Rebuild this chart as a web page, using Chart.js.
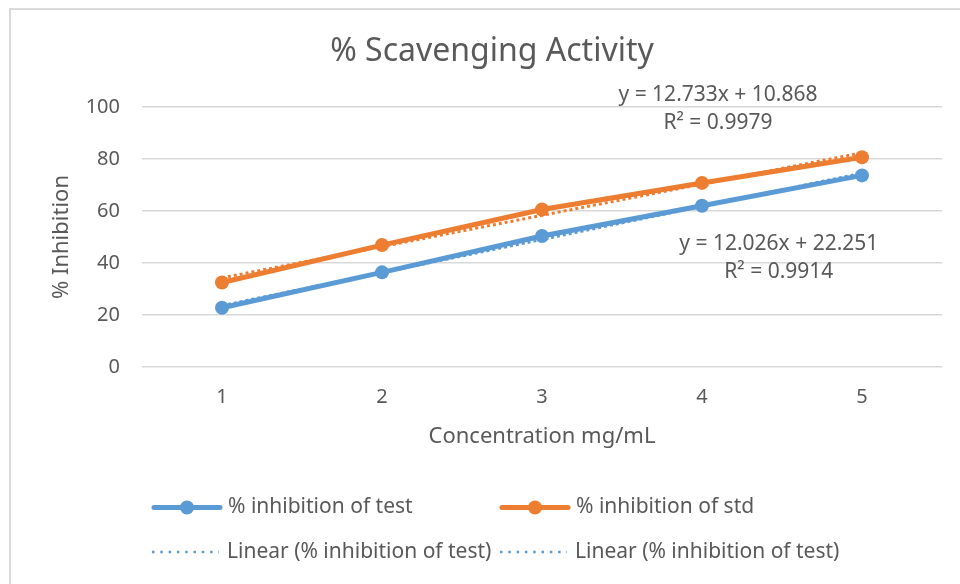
<!DOCTYPE html>
<html>
<head>
<meta charset="utf-8">
<title>% Scavenging Activity</title>
<script src="https://cdn.jsdelivr.net/npm/chart.js@4.4.1/dist/chart.umd.min.js"></script>
<style>
  html, body { margin: 0; padding: 0; background: #fff; }
  #wrap { position: relative; width: 960px; height: 584px; }
</style>
</head>
<body>
<div id="wrap"><canvas id="scavenging" width="960" height="584"></canvas></div>
<script>
// data
var concentrations = ["1", "2", "3", "4", "5"];
var testInhibition = [22.8, 36.4, 50.4, 62.0, 73.7];
var stdInhibition = [32.5, 46.9, 60.6, 70.8, 80.7];
// trendline values as shown by the excel labels
var testTrend = [23.601, 36.334, 49.067, 61.800, 74.533];
var stdTrend = [34.277, 46.303, 58.329, 70.355, 82.381];
var yTicks = [0, 20, 40, 60, 80, 100];

var blue = '#5b9bd5';
var orange = '#ed7d31';
var textGrey = '#595959';
var gridGrey = '#d9d9d9';
var fontFam = "'Noto Sans', sans-serif";

// title, frame, equation labels and legend
var decorations = {
	id: 'decorations',
	afterDraw: function (chart) {
		var ctx = chart.ctx;
		var x = chart.scales.x, y = chart.scales.y;
		ctx.save();

		// frame (only top and left edges are inside the picture)
		ctx.strokeStyle = gridGrey;
		ctx.lineWidth = 2;
		ctx.beginPath();
		ctx.moveTo(10, 584);
		ctx.lineTo(10, 9);
		ctx.lineTo(960, 9);
		ctx.stroke();

		ctx.fillStyle = textGrey;
		ctx.textAlign = 'center';
		ctx.textBaseline = 'middle';
		ctx.font = '32px ' + fontFam;
		ctx.fillText('% Scavenging Activity', 492, 52);

		// trendline labels
		ctx.font = '21px ' + fontFam;
		ctx.fillText('y = 12.733x + 10.868', x.getPixelForValue(3.1), y.getPixelForValue(104.5));
		ctx.fillText('R\u00b2 = 0.9979', x.getPixelForValue(3.1), y.getPixelForValue(93.7));
		ctx.fillText('y = 12.026x + 22.251', x.getPixelForValue(3.48), y.getPixelForValue(47.3));
		ctx.fillText('R\u00b2 = 0.9914', x.getPixelForValue(3.48), y.getPixelForValue(36.5));

		// legend
		var items = [
			{ col: 0, row: 0, color: blue, solid: true, text: '% inhibition of test' },
			{ col: 1, row: 0, color: orange, solid: true, text: '% inhibition of std' },
			{ col: 0, row: 1, color: blue, solid: false, text: 'Linear (% inhibition of test)' },
			{ col: 1, row: 1, color: blue, solid: false, text: 'Linear (% inhibition of test)' }
		];
		var colX = [152, 500];
		var rowY = [507.5, 552];
		ctx.textAlign = 'left';
		items.forEach(function (it) {
			var lx = colX[it.col], ly = rowY[it.row];
			ctx.strokeStyle = it.color;
			ctx.fillStyle = it.color;
			if (it.solid) {
				ctx.lineWidth = 5;
				ctx.lineCap = 'round';
				ctx.setLineDash([]);
				ctx.beginPath();
				ctx.moveTo(lx + 2, ly);
				ctx.lineTo(lx + 68, ly);
				ctx.stroke();
				ctx.beginPath();
				ctx.arc(lx + 35, ly, 7, 0, Math.PI * 2);
				ctx.fill();
			} else {
				ctx.lineWidth = 2.5;
				ctx.lineCap = 'butt';
				ctx.setLineDash([2.5, 5.8]);
				ctx.beginPath();
				ctx.moveTo(lx, ly);
				ctx.lineTo(lx + 67, ly);
				ctx.stroke();
				ctx.setLineDash([]);
			}
			ctx.fillStyle = textGrey;
			ctx.fillText(it.text, lx + (it.solid ? 76 : 75), ly);
		});
		ctx.restore();
	}
};

var ctx = document.getElementById("scavenging").getContext("2d");
var scavChart = new Chart(ctx, {
	type: 'line',
	data: {
		labels: concentrations,
		datasets: [{
			label: '% inhibition of test',
			data: testInhibition,
			borderColor: blue,
			backgroundColor: blue,
			borderWidth: 5,
			pointRadius: 7,
			pointHoverRadius: 7,
			pointBorderWidth: 0,
			tension: 0,
			order: 1
		}, {
			label: '% inhibition of std',
			data: stdInhibition,
			borderColor: orange,
			backgroundColor: orange,
			borderWidth: 5,
			pointRadius: 7,
			pointHoverRadius: 7,
			pointBorderWidth: 0,
			tension: 0,
			order: 1
		}, {
			label: 'Linear (% inhibition of test)',
			data: testTrend,
			borderColor: blue,
			borderWidth: 3,
			borderDash: [3, 3],
			pointRadius: 0,
			tension: 0,
			order: 2
		}, {
			label: 'Linear (% inhibition of std)',
			data: stdTrend,
			borderColor: orange,
			borderWidth: 3,
			borderDash: [3, 3],
			pointRadius: 0,
			tension: 0,
			order: 2
		}]
	},
	options: {
		responsive: false,
		animation: false,
		layout: {
			padding: { top: 107, right: 18, bottom: 117, left: 0 }
		},
		plugins: {
			legend: { display: false },
			title: { display: false },
			tooltip: { enabled: false }
		},
		scales: {
			x: {
				offset: true,
				grid: { display: false, drawTicks: false },
				border: { display: false },
				ticks: { color: textGrey, font: { family: fontFam, size: 20 }, padding: 18 },
				title: {
					display: true,
					text: 'Concentration mg/mL',
					color: textGrey,
					font: { family: fontFam, size: 22 },
					padding: { top: 0, bottom: 17 }
				},
				afterFit: function (scale) { scale.height = 100; }
			},
			y: {
				min: 0,
				max: 100,
				afterBuildTicks: function (scale) {
					scale.ticks = yTicks.map(function (v) { return { value: v }; });
				},
				grid: { color: gridGrey, lineWidth: 1.5, drawTicks: false },
				border: { display: false },
				ticks: { color: textGrey, font: { family: fontFam, size: 20 }, padding: 22 },
				title: {
					display: true,
					text: '% Inhibition',
					color: textGrey,
					font: { family: fontFam, size: 22 },
					padding: { top: 49, bottom: 0 }
				},
				afterFit: function (scale) { scale.width = 142; }
			}
		}
	},
	plugins: [decorations]
});
</script>
</body>
</html>
